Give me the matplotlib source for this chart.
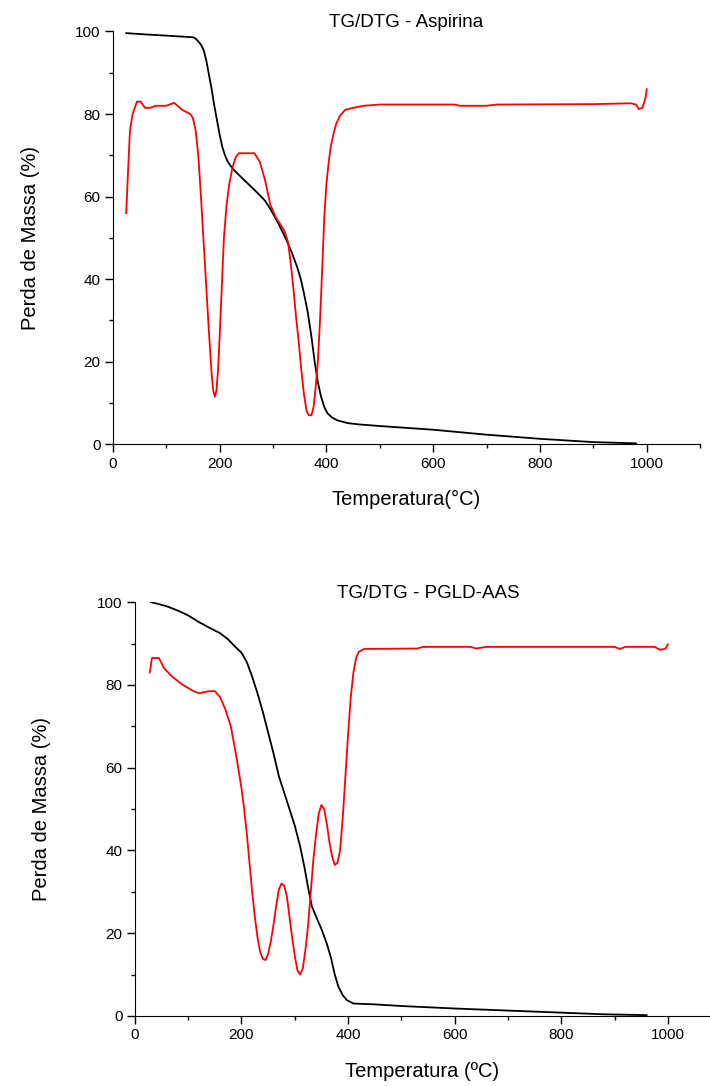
import matplotlib.pyplot as plt
from matplotlib.ticker import MultipleLocator

plt.rcParams["font.family"] = ["Liberation Sans", "DejaVu Sans"]

# TG/DTG - Aspirina
asp_tg_t = [25, 60, 100, 150, 155, 160, 165, 170, 175, 180, 185, 190, 195, 200, 205,
            210, 215, 220, 230, 250, 270, 285, 295, 310, 325, 335, 345, 352, 358, 365,
            372, 378, 384, 390, 396, 402, 410, 420, 440, 460, 500, 600, 700, 800, 900, 980]
asp_tg_m = [99.6, 99.3, 99, 98.6, 98.3, 97.6, 96.8, 95.5, 93, 89.5, 86, 82, 78.5, 75, 72,
            70, 68.5, 67.5, 66, 63.5, 61, 59, 57, 53.5, 49.5, 46.5, 43, 40, 36.5, 32,
            26, 20, 15, 11.5, 9, 7.5, 6.5, 5.8, 5.1, 4.8, 4.4, 3.5, 2.3, 1.3, 0.5, 0.2]
asp_dtg_t = [25, 28, 32, 37, 45, 52, 60, 70, 80, 100, 115, 130, 145, 150, 155, 160, 165,
             170, 175, 180, 185, 188, 191, 194, 197, 200, 204, 208, 213, 218, 224, 230,
             236, 265, 275, 285, 295, 305, 315, 322, 328, 333, 338, 343, 348, 353, 358,
             363, 367, 372, 376, 380, 384, 388, 392, 396, 400, 404, 408, 413, 418, 425,
             435, 450, 470, 500, 640, 650, 700, 720, 900, 970, 980, 985, 992, 998, 1000]
asp_dtg_v = [56, 65, 76, 80, 83, 83, 81.5, 81.5, 82, 82, 82.7, 81, 80, 79, 76, 70, 60,
             49, 38, 27, 17, 13, 11.5, 13, 18, 26, 38, 50, 58, 63, 67, 69.5,
             70.5, 70.5, 68.5, 64, 58, 55, 53, 51.5, 49, 44, 38, 31, 25, 18, 12,
             8, 7, 7, 9, 14, 20, 30, 42, 55, 63, 68, 72, 75, 77.5, 79.5,
             81, 81.5, 82, 82.3, 82.3, 82, 82, 82.3, 82.4, 82.6, 82.3, 81.2, 81.5, 84, 86]

# TG/DTG - PGLD-AAS
pgl_tg_t = [30, 40, 60, 80, 100, 120, 140, 160, 175, 190, 200, 210, 220, 230, 240, 250,
            260, 270, 280, 290, 300, 310, 318, 325, 332, 340, 350, 360, 368, 375, 382,
            390, 398, 410, 450, 500, 550, 600, 700, 800, 880, 960]
pgl_tg_m = [100, 99.7, 99, 98, 96.8, 95.2, 93.8, 92.5, 91, 89, 87.8, 85.5, 82, 78, 73.5, 68.5,
            63.5, 58, 54, 50, 46, 41, 36, 31, 26.5, 24, 21, 17.5, 14, 10, 7,
            5, 3.8, 3, 2.8, 2.4, 2.1, 1.8, 1.3, 0.8, 0.4, 0.2]
pgl_dtg_t = [28, 32, 45, 55, 70, 90, 110, 120, 140, 150, 160, 170, 180, 190, 200, 205,
             210, 215, 220, 225, 230, 235, 240, 245, 250, 255, 260, 265, 270, 275, 280,
             285, 290, 295, 300, 305, 310, 315, 320, 325, 330, 335, 340, 345, 350, 355,
             360, 365, 370, 375, 380, 385, 390, 395, 400, 405, 410, 415, 420, 430, 530,
             540, 630, 640, 660, 900, 910, 920, 975, 985, 995, 1000]
pgl_dtg_v = [83, 86.5, 86.5, 84, 82, 80, 78.5, 78, 78.5, 78.5, 77, 74, 70, 63, 55, 50,
             44, 37, 30, 24, 19, 15.5, 13.8, 13.5, 15, 18, 22, 26.5, 30.5, 32, 31.5,
             29, 24, 19, 14.5, 11, 10, 11.5, 16, 22, 30, 38, 44, 49, 51, 50,
             46.5, 42, 38.5, 36.5, 37, 40, 48, 58, 68, 77, 83, 86.5, 88, 88.7, 88.8,
             89.2, 89.2, 88.8, 89.2, 89.2, 88.7, 89.2, 89.2, 88.5, 88.7, 89.8]

fig = plt.figure(figsize=(7.1, 10.86), dpi=100, facecolor="white")


def style_axes(ax, xmax):
    ax.set_xlim(0, xmax)
    ax.set_ylim(0, 100)
    ax.spines["top"].set_visible(False)
    ax.spines["right"].set_visible(False)
    ax.xaxis.set_major_locator(MultipleLocator(200))
    ax.xaxis.set_minor_locator(MultipleLocator(100))
    ax.yaxis.set_major_locator(MultipleLocator(20))
    ax.yaxis.set_minor_locator(MultipleLocator(10))
    ax.tick_params(which="both", direction="out", labelsize=11, width=1.0)
    ax.tick_params(which="major", length=5.5)
    ax.tick_params(which="minor", length=3)


ax1 = fig.add_axes([0.159, 0.591, 0.827, 0.380])
ax1.plot(asp_tg_t, asp_tg_m, color="black", lw=1.3)
ax1.plot(asp_dtg_t, asp_dtg_v, color="red", lw=1.3)
style_axes(ax1, 1100)
ax1.set_title("TG/DTG - Aspirina", fontsize=13.5, pad=1, x=0.5)
ax1.set_xlabel("Temperatura(°C)", fontsize=14.5, labelpad=14)
ax1.set_ylabel("Perda de Massa (%)", fontsize=14.5, labelpad=25)

ax2 = fig.add_axes([0.190, 0.0645, 0.81, 0.381])
ax2.plot(pgl_tg_t, pgl_tg_m, color="black", lw=1.3)
ax2.plot(pgl_dtg_t, pgl_dtg_v, color="red", lw=1.3)
style_axes(ax2, 1079)
ax2.set_title("TG/DTG - PGLD-AAS", fontsize=13.5, pad=1, x=0.51)
ax2.set_xlabel("Temperatura (ºC)", fontsize=14.5, labelpad=14)
ax2.set_ylabel("Perda de Massa (%)", fontsize=14.5, labelpad=33)

fig.savefig("out.png", dpi=100)
